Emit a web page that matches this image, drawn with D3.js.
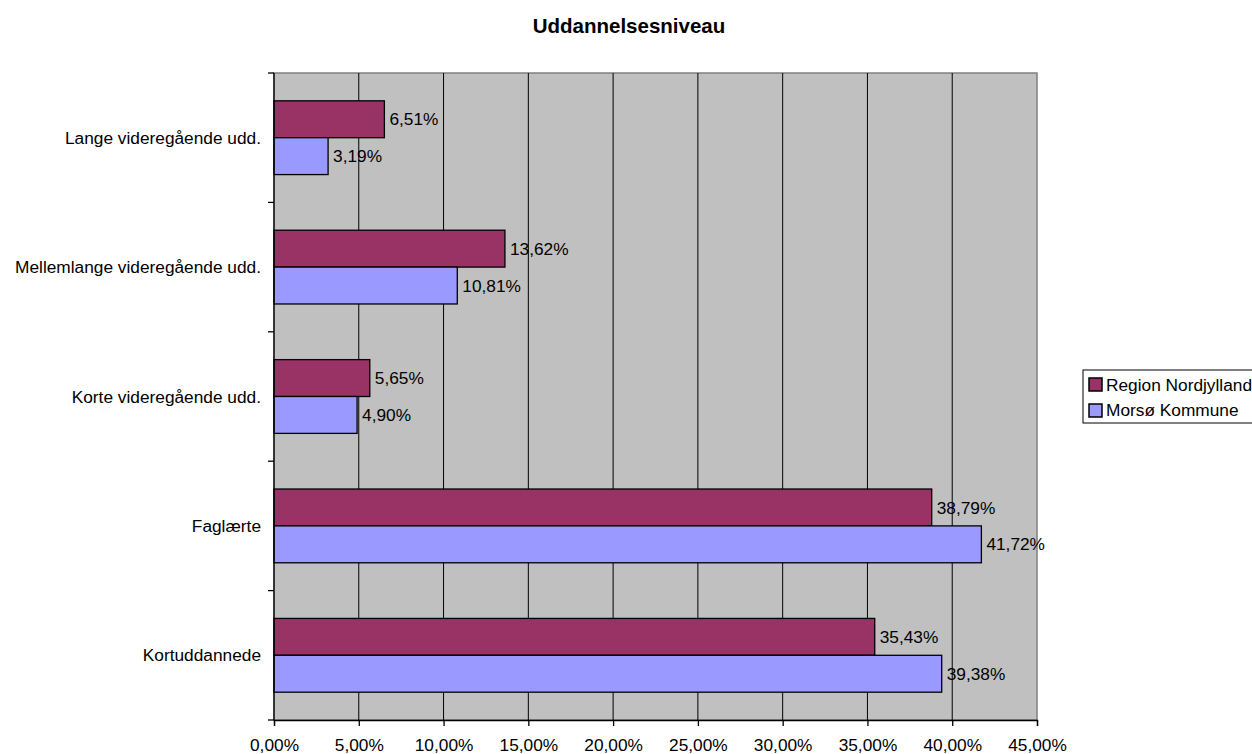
<!DOCTYPE html>
<html><head><meta charset="utf-8">
<script src="https://cdn.jsdelivr.net/npm/d3@7"></script>
<style>body{margin:0;background:#fff}svg{display:block;font-family:"Liberation Sans",Arial,sans-serif}</style>
</head><body>
<svg id="c" width="1252" height="754"></svg>
<script>
const categories = ["Lange videregående udd.","Mellemlange videregående udd.","Korte videregående udd.","Faglærte","Kortuddannede"];
const seriesNames = ["Region Nordjylland","Morsø Kommune"];
const regionValues = [6.51,13.62,5.65,38.79,35.43];
const morsoValues = [3.19,10.81,4.90,41.72,39.38];
const xTicks = [0,5,10,15,20,25,30,35,40,45];
const colors = ["#993366","#9999FF"];
const title = "Uddannelsesniveau";

const FS = 17.3;
const svg = d3.select("#c");
const L=274, R=1037, T=73, B=720;
const x = d3.scaleLinear().domain([0,45]).range([L,R]);
const y = d3.scaleBand().domain(categories).range([T,B]).paddingInner(0.43).paddingOuter(0.215);
const ys = d3.scaleBand().domain(seriesNames).range([0,y.bandwidth()]);
const fmt = v => v.toFixed(2).replace(".",",")+"%";

svg.append("text").attr("x",629).attr("y",33).attr("text-anchor","middle")
  .attr("font-size",20.5).attr("font-weight","bold").text(title);

svg.append("rect").attr("x",L).attr("y",T).attr("width",R-L).attr("height",B-T)
  .attr("fill","#C0C0C0").attr("stroke","#808080").attr("stroke-width",1.5);

svg.append("g").selectAll("line").data(xTicks.slice(1,-1)).join("line")
  .attr("x1",d=>x(d)).attr("x2",d=>x(d)).attr("y1",T).attr("y2",B)
  .attr("stroke","#000").attr("stroke-width",1);

const data = categories.map((c,i)=>({c, vals:[regionValues[i],morsoValues[i]]}));
const g = svg.append("g").selectAll("g").data(data).join("g")
  .attr("transform",d=>`translate(0,${y(d.c)})`);
g.selectAll("rect").data(d=>d.vals.map((v,j)=>({v,s:seriesNames[j],j}))).join("rect")
  .attr("x",x(0)).attr("y",d=>ys(d.s)).attr("width",d=>x(d.v)-x(0)).attr("height",ys.bandwidth())
  .attr("fill",d=>colors[d.j]).attr("stroke","#000").attr("stroke-width",1.3);
g.selectAll("text").data(d=>d.vals.map((v,j)=>({v,s:seriesNames[j],j}))).join("text")
  .attr("x",d=>x(d.v)+5).attr("y",d=>ys(d.s)+ys.bandwidth()/2).attr("dy","0.35em")
  .attr("font-size",FS).attr("fill","#000").text(d=>fmt(d.v));

// x axis
const xa = svg.append("g").attr("transform",`translate(0,${B})`)
  .call(d3.axisBottom(x).tickValues(xTicks).tickSize(6).tickPadding(13).tickFormat(fmt));
xa.select(".domain").attr("stroke","#000").attr("stroke-width",1.3);
xa.selectAll(".tick line").attr("stroke","#000").attr("stroke-width",1.3);
xa.selectAll("text").attr("font-size",FS).attr("fill","#000").attr("font-family","Liberation Sans, Arial, sans-serif");

// y axis
const yb = d3.range(categories.length+1).map(i=>T+i*(B-T)/categories.length);
svg.append("line").attr("x1",L).attr("x2",L).attr("y1",T).attr("y2",B).attr("stroke","#000").attr("stroke-width",1.3);
svg.append("g").selectAll("line").data(yb).join("line")
  .attr("x1",L-6).attr("x2",L).attr("y1",d=>d).attr("y2",d=>d).attr("stroke","#000").attr("stroke-width",1.3);
svg.append("g").selectAll("text").data(categories).join("text")
  .attr("x",261).attr("y",d=>y(d)+y.bandwidth()/2).attr("dy","0.35em").attr("text-anchor","end")
  .attr("font-size",FS).attr("fill","#000").text(d=>d);

// legend
const lg = svg.append("g");
lg.append("rect").attr("x",1083).attr("y",370).attr("width",180).attr("height",53)
  .attr("fill","#fff").attr("stroke","#000").attr("stroke-width",1);
seriesNames.forEach((s,i)=>{
  lg.append("rect").attr("x",1089).attr("y",378+i*26).attr("width",13).attr("height",13)
    .attr("fill",colors[i]).attr("stroke","#000").attr("stroke-width",1.5);
  lg.append("text").attr("x",1106).attr("y",385+i*25).attr("dy","0.35em").attr("font-size",FS).text(s);
});
</script>
</body></html>
